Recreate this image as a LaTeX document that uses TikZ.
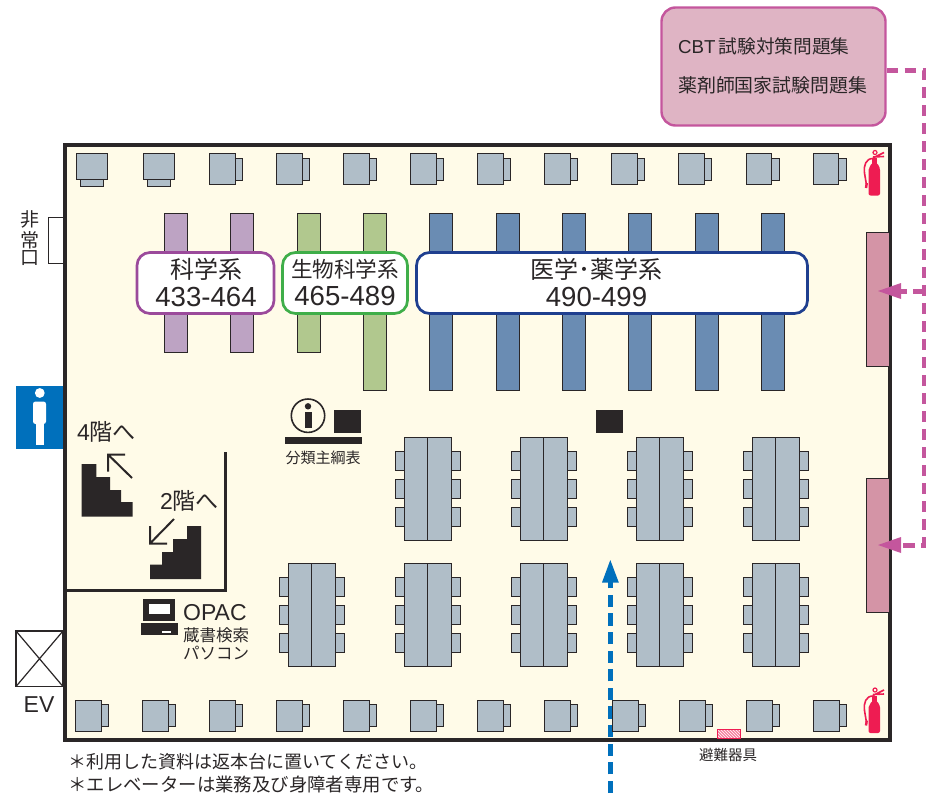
\documentclass[tikz,border=0pt]{standalone}
\usepackage{fontspec}
\usetikzlibrary{patterns}
\setmainfont{Noto Sans CJK JP}
\newfontfamily\latf{Liberation Sans}
\newcommand{\fsz}[1]{\fontsize{#1}{#1}\selectfont}
\definecolor{ink}{HTML}{2A2627}
\definecolor{floorc}{HTML}{FFFBE8}
\definecolor{deskc}{HTML}{B0BEC8}
\definecolor{purpS}{HTML}{BDA3C3}
\definecolor{greenS}{HTML}{B1C88E}
\definecolor{blueS}{HTML}{6A8CB3}
\definecolor{pinkS}{HTML}{D494A6}
\definecolor{pinkB}{HTML}{DFB4C4}
\definecolor{pinkL}{HTML}{C4569D}
\definecolor{fireR}{HTML}{EE1C52}
\definecolor{blueA}{HTML}{0070BC}
\definecolor{purpL}{HTML}{9B4A9B}
\definecolor{greenL}{HTML}{3FAE49}
\definecolor{navyL}{HTML}{1F3F8F}
\tikzset{
 lbl/.style={inner sep=0pt,text=ink,align=center},
 lft/.style={inner sep=0pt,text=ink,anchor=base west},
 furn/.style={draw=ink,line width=0.9pt,fill=deskc},
 shelfbar/.style={draw=ink,line width=0.9pt},
 tag/.style={draw,line width=2.7pt,fill=white,rounded corners=13pt,minimum height=61pt,inner sep=0pt},
 tagtext/.style={inner sep=0pt,align=center,text=ink},
 solid ink/.style={fill=ink,draw=none},
 pdash/.style={draw=pinkL,line width=5pt,dash pattern=on 11.5pt off 6.5pt},
}
\begin{document}
\begin{tikzpicture}[x=1pt,y=-1pt]
\useasboundingbox (0,0) rectangle (926,795);
% floor
\draw[fill=floorc,draw=ink,line width=3.8pt] (65.3,144.8) rectangle (889.8,740);
% exit door
\draw[fill=white,draw=ink,line width=0.8pt] (48,217.5) rectangle (63,263);
\node[lbl] (hi) at (30,219) {\fsz{19}非};
\node[lbl] (jo) at (30,240) {\fsz{19}常};
\node[lbl] (kuchi) at (30,258) {\fsz{19}口};
% blue walking route
\draw[blueA,line width=4.4pt,dash pattern=on 12.3pt off 6.3pt] (610.3,793) -- (610.3,582);
\path[fill=blueA] (610.3,560) -- (602,582.5) -- (618.8,582.5) -- cycle;
% top desks
\foreach \x in {76,143.3}{
  \draw[furn] (\x+4.5,179) rectangle (\x+27,186);
  \draw[furn] (\x,153.5) rectangle (\x+31.5,179);
}
\foreach \x in {209.5,276.5,343.5,410.5,477.5,544.5,611.7,678.9,746.1,813.3}{
  \draw[furn] (\x+25,158) rectangle (\x+33,180);
  \draw[furn] (\x,153.5) rectangle (\x+25.5,184.5);
}
% bottom desks
\foreach \x in {75,142,209,276,343,410,477,544,612,679,746,813}{
  \draw[furn] (\x+25,704.5) rectangle (\x+33.5,726.5);
  \draw[furn] (\x,700) rectangle (\x+26,731);
}
% shelves
\foreach \x in {164,230.5}{\draw[shelfbar,fill=purpS] (\x,213.3) rectangle (\x+23,352.7);}
\draw[shelfbar,fill=greenS] (297,213.3) rectangle (320,352.7);
\draw[shelfbar,fill=greenS] (363,213.3) rectangle (386,390);
\foreach \x in {429.5,496,562.3,628.8,695,761}{\draw[shelfbar,fill=blueS] (\x,213.3) rectangle (\x+23,390);}
\node[draw=ink,line width=0.9pt,fill=pinkS,inner sep=0pt,minimum width=23pt,minimum height=134pt] (shelfA) at (877.5,299) {};
\node[draw=ink,line width=0.9pt,fill=pinkS,inner sep=0pt,minimum width=23pt,minimum height=134pt] (shelfB) at (877.5,545) {};
% tags
\node[tag,draw=purpL,minimum width=137pt] (sci) at (205.5,283) {};
\node[tagtext] (scit) at (206,282.5) {\fsz{24}科学系\\[6pt]\fsz{27.6}\latf 433-464};
\node[tag,draw=greenL,minimum width=125pt] (bio) at (345,283) {};
\node[tagtext] (biot) at (345,282.5) {\fsz{21.6}生物科学系\\[6pt]\fsz{27.6}\latf 465-489};
\node[tag,draw=navyL,minimum width=391pt] (med) at (612,283) {};
\node[tagtext] (medt) at (596.5,282.5) {\fsz{24}医学･薬学系\\[6pt]\fsz{27.6}\latf 490-499};
% top-right box and connector
\node[draw=pinkL,line width=2.4pt,fill=pinkB,rounded corners=14pt,minimum width=224pt,minimum height=118pt,inner sep=0pt] (cbt) at (773.5,66.5) {};
\node[lft] (cbt1) at (678,53.5) {\fsz{18.7}\latf CBT\,{\fontspec{Noto Sans CJK JP}試験対策問題集}};
\node[lft] (cbt2) at (678,92.5) {\fsz{18.9}薬剤師国家試験問題集};
\coordinate (turnT) at (924.5,70.5);
\coordinate (turnA) at (924.5,291);
\coordinate (turnB) at (924.5,545);
\coordinate (cbtR) at (cbt.east |- turnT);
\draw[pdash] (cbtR) -- (turnT) -- (turnB) -- (900,545);
\draw[pdash] (turnA) -- (900,291);
\path[fill=pinkL] (878,291) -- (901,283) -- (901,299) -- cycle;
\path[fill=pinkL] (878,545) -- (901,537) -- (901,553) -- cycle;
% info person
\fill[blueA] (16,386) rectangle (63,449);
\fill[white] (39.8,393) circle (4.9);
\fill[white,rounded corners=2.5pt] (33,401.5) rectangle (46,424);
\fill[white] (36,420) rectangle (43.8,444.5);
% elevator
\draw[draw=ink,line width=1.3pt,fill=white] (16,631) rectangle (63,686.5);
\draw[ink,line width=1.2pt] (16,631) -- (63,686.5) (63,631) -- (16,686.5);
\node[lbl] (ev) at (39,705) {\fsz{23}\latf EV};
% stairs wall
\draw[ink,line width=3pt] (225.5,452) -- (225.5,590.5) -- (65,590.5);
\node[lft] (up) at (77,440) {\fsz{23}\latf 4{\fontspec{Noto Sans CJK JP}階へ}};
\node[lft] (down) at (160,509) {\fsz{23}\latf 2{\fontspec{Noto Sans CJK JP}階へ}};
\path[solid ink] (81.7,464) -- (96.3,464) -- (96.3,477) -- (110,477) -- (110,490) -- (121,490) -- (121,502) -- (132.7,502) -- (132.7,516.7) -- (81.7,516.7) -- cycle;
\path[solid ink] (150,579) -- (150,564.7) -- (162,564.7) -- (162,552) -- (173,552) -- (173,539) -- (187,539) -- (187,526) -- (201,526) -- (201,579) -- cycle;
\draw[ink,line width=2pt] (132,478) -- (108,454.5) (125,454.5) -- (108,454.5) -- (108,471.7);
\draw[ink,line width=2pt] (174,519) -- (150,543.5) (150,526) -- (150,543.5) -- (167,543.5);
% info point
\draw[ink,line width=1.6pt] (308,415.7) circle (16.7);
\fill[ink] (308,406.3) circle (3.2);
\fill[ink] (304.8,412) rectangle (312.2,428);
\fill[ink] (334,410) rectangle (361,433);
\fill[ink] (285,437) rectangle (362,443.5);
\node[lbl] (bunrui) at (323,458) {\fsz{15}分類主綱表};
\fill[ink] (596,410) rectangle (623,433);
% OPAC
\fill[ink] (143,599) rectangle (175,621);
\fill[white] (149,604) rectangle (170,614);
\fill[ink] (141,623) rectangle (178,635);
\fill[white] (162,631) rectangle (171,633);
\node[lft] (opac) at (183,620) {\fsz{23}\latf OPAC};
\node[lbl] (zosho) at (216,635) {\fsz{16.5}蔵書検索};
\node[lbl] (paso) at (216,653) {\fsz{16.5}パソコン};
% tables
\foreach \x/\y in {404/437,520/437,636/437,752/437,288/563,404/563,520/563,636/563,752/563}{
  \foreach \d in {14,42,70}{
    \draw[furn] (\x-9,\y+\d) rectangle (\x,\y+\d+19);
    \draw[furn] (\x+47,\y+\d) rectangle (\x+56,\y+\d+19);
  }
  \draw[furn] (\x,\y) rectangle (\x+47,\y+103);
  \draw[ink,line width=0.8pt] (\x+23.5,\y) -- (\x+23.5,\y+103);
}
% extinguishers
\foreach \dy in {0,537.5}{
\begin{scope}[shift={(0,\dy)}]
  \fill[fireR,rounded corners=2pt] (868.5,168) rectangle (880,195.5);
  \fill[fireR] (868.5,171) .. controls (868.5,160) and (880,160) .. (880,171) -- cycle;
  \fill[fireR] (872,158) rectangle (877,165);
  \draw[fireR,line width=1.6pt] (873,158.5) .. controls (866,158.5) and (863.5,165) .. (864.5,173) -- (866.5,185);
  \draw[fireR,line width=2.4pt] (866.8,183) -- (866,188);
  \draw[fireR,line width=1.6pt] (873,158) -- (884,152.5) (873,157) -- (884,156.5);
  \draw[fireR,line width=1.2pt] (875,152.5) circle (2);
\end{scope}}
% escape device
\path[fill=fireR!55!white] (717,729.5) rectangle (740,738);
\path[pattern=north west lines,pattern color=white] (717,729.5) rectangle (740,738);
\draw[fireR,line width=0.6pt] (717,729.5) rectangle (740,738);
\node[lbl] (hinan) at (728,755) {\fsz{14.5}避難器具};
% notes
\node[lft] (note1) at (68,768.5) {\fsz{18}＊利用した資料は返本台に置いてください。};
\node[lft] (note2) at (68,791) {\fsz{18.4}＊エレベーターは業務及び身障者専用です。};
\end{tikzpicture}
\end{document}
